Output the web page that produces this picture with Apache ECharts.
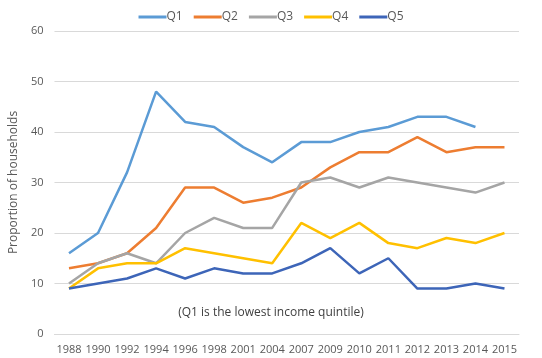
<!DOCTYPE html>
<html><head><meta charset="utf-8">
<script src="https://cdn.jsdelivr.net/npm/echarts@6/dist/echarts.min.js"></script>
<style>html,body{margin:0;padding:0;background:#fff}#c{width:542px;height:358px}</style>
</head><body><div id="c"></div>
<script>
var categories = ['1988','1990','1992','1994','1996','1998','2001','2004','2007','2009','2010','2011','2012','2013','2014','2015'];
var q1 = [16,20,32,48,42,41,37,34,38,38,40,41,43,43,41,null];
var q2 = [13,14,16,21,29,29,26,27,29,33,36,36,39,36,37,37];
var q3 = [10,14,16,14,20,23,21,21,30,31,29,31,30,29,28,30];
var q4 = [9,13,14,14,17,16,15,14,22,19,22,18,17,19,18,20];
var q5 = [9,10,11,13,11,13,12,12,14,17,12,15,9,9,10,9];
var seriesNames = ['Q1','Q2','Q3','Q4','Q5'];
var colors = ['#5B9BD5','#ED7D31','#A5A5A5','#FFC000','#3D65B8'];
var yTicks = [0,10,20,30,40,50,60];
var note = '(Q1 is the lowest income quintile)';

var font = 'Open Sans, Liberation Sans, sans-serif';
var data = [q1,q2,q3,q4,q5];
var chart = echarts.init(document.getElementById('c'), null, {renderer:'canvas'});
chart.setOption({
  animation:false,
  color: colors,
  textStyle:{fontFamily:font},
  legend:{
    top:6, left:'center', itemWidth:28, itemHeight:3, itemGap:11,
    icon:'rect',
    textStyle:{color:'#595959', fontSize:12, fontFamily:font, padding:[0,0,0,-5]},
    data: seriesNames
  },
  grid:{left:47, right:23, top:31, bottom:24},
  xAxis:{
    type:'category', data:categories, boundaryGap:true,
    axisLine:{show:true, lineStyle:{color:'#D9D9D9'}},
    axisTick:{show:false},
    axisLabel:{color:'#595959', fontSize:11, margin:10, fontFamily:font, interval:0}
  },
  yAxis:{
    type:'value', min:yTicks[0], max:yTicks[yTicks.length-1], interval:10,
    name:'Proportion of households', nameLocation:'middle', nameGap:32,
    nameTextStyle:{color:'#595959', fontSize:12, fontFamily:font},
    axisLine:{show:false}, axisTick:{show:false},
    axisLabel:{color:'#595959', fontSize:11, margin:11, fontFamily:font},
    splitLine:{lineStyle:{color:'#D9D9D9', width:1}}
  },
  graphic:[{
    type:'text', left:'center', top:307,
    style:{text:note, fill:'#404040', font:'12px '+font}
  }],
  series: seriesNames.map(function(n,i){
    return {name:n, type:'line', data:data[i], showSymbol:false, symbol:'none',
      lineStyle:{width:2.5, color:colors[i]}, connectNulls:false};
  })
});
</script></body></html>
